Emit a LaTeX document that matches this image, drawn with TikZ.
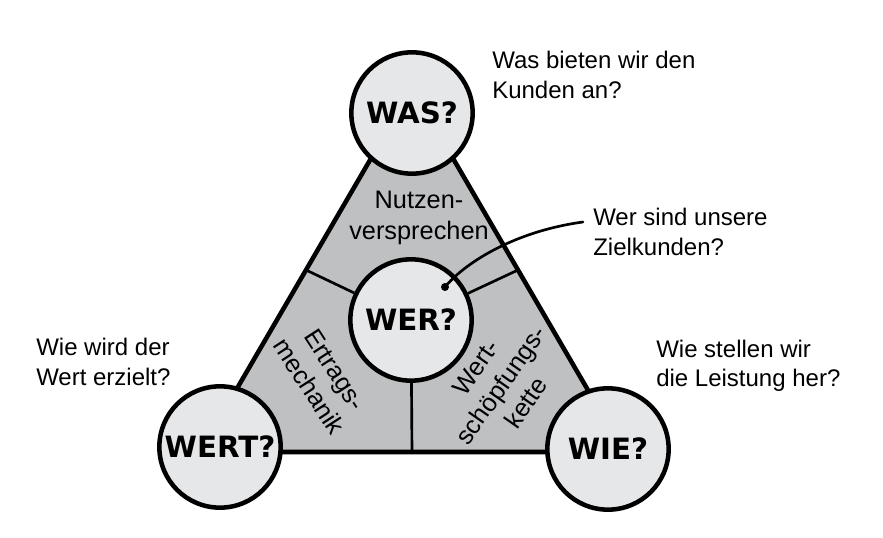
\documentclass[tikz,border=0pt]{standalone}
\usepackage{fontspec}
\setmainfont{Liberation Sans}
\newfontfamily\boldfont{DejaVu Sans}
\usepackage{tikz}
\usetikzlibrary{positioning}

\definecolor{trigray}{RGB}{190,192,194}
\definecolor{circgray}{RGB}{230,231,232}

\begin{document}
\begin{tikzpicture}[x=0.75pt,y=-0.75pt,
  ask/.style={circle,draw,line width=3.4pt,fill=circgray,minimum size=91pt,inner sep=0pt,
    font=\boldfont\bfseries\fontsize{22}{24}\selectfont},
  question/.style={inner sep=0pt,align=left,anchor=west,font=\fontsize{18}{22}\selectfont},
  area/.style={inner sep=0pt,align=center,font=\fontsize{19}{23}\selectfont},
  divider/.style={line width=2pt}]
\useasboundingbox (0,0) rectangle (883,538);
% corners of the triangle and middles of its sides
\coordinate (A) at (412,88);
\coordinate (B) at (200,452);
\coordinate (C) at (624,452);
\coordinate (mAB) at (306,270);
\coordinate (mAC) at (518,270);
\coordinate (mBC) at (412,452);
\filldraw[fill=trigray,line width=3.4pt,line join=round] (A) -- (B) -- (C) -- cycle;

\node[ask] (was) at (412,113) {WAS?};
\node[ask] (wert) at (220,447) {WERT?};
\node[ask] (wie) at (608,449) {WIE?};
\node[ask] (wer) at (411,320) {WER?};

\draw[divider] (wer) -- (mAB);
\draw[divider] (wer) -- (mAC);
\draw[divider] (wer) -- (mBC);

\node[area] (nutzen) at (419,218) {Nutzen-\\versprechen};
\node[area,rotate=-57] (ertrag) at (322,378) {Ertrags-\\mechanik};
\node[area,rotate=55] (kette) at (501,385) {Wert-\\schöpfungs-\\kette};

\node[question] (q-was) at (492,75) {Was bieten wir den\\Kunden an?};
\node[question] (q-wer) at (593,232) {Wer sind unsere\\Zielkunden?};
\node[question] (q-wert) at (36,362) {Wie wird der\\Wert erzielt?};
\node[question] (q-wie) at (656,366) {Wie stellen wir\\die Leistung her?};

% leader from the dot in WER? to its question
\coordinate (dot) at (445,287);
\fill (dot) circle (3pt);
\draw[line width=2pt,line cap=round] (dot) .. controls (462,266) and (510,232) .. ([shift={(-10,-10)}]q-wer.west);
\end{tikzpicture}
\end{document}
